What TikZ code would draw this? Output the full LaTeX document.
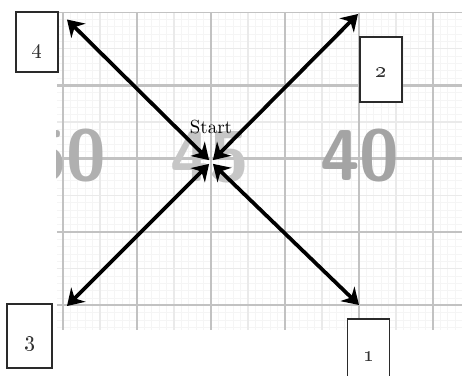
\documentclass[tikz,border=0pt]{standalone}
\usetikzlibrary{arrows.meta,positioning}
\definecolor{gridmajor}{HTML}{C2C2C2}
\definecolor{gridhalf}{HTML}{EAEAEA}
\definecolor{gridfine}{HTML}{F5F5F5}
\definecolor{fadeddark}{HTML}{A4A4A4}
\definecolor{fadedmid}{HTML}{B0B0B0}
\definecolor{fadedlight}{HTML}{C6C6C6}
\definecolor{boxline}{HTML}{2A2A2A}

\begin{document}
\begin{tikzpicture}[x=0.75pt, y=-0.75pt,
    startlabel/.style={font=\normalsize, scale=1.42, inner sep=0.7pt},
    scalenum/.style={font=\sffamily\bfseries\fontsize{54}{54}\selectfont, inner sep=0pt},
    numbox/.style={draw=boxline, line width=0.9pt, fill=white, inner sep=0pt},
    numtext/.style={font=\normalsize, scale=1.6, inner sep=0pt, text=black!80},
    moveline/.style={line width=2.8pt,
        {Stealth[length=12pt,width=15pt]}-{Stealth[length=12pt,width=15pt]}},
]
\clip (0,0) rectangle (462,376);

% Graph paper
\begin{scope}
\clip (57,12) rectangle (462,330);
\foreach \i in {0,...,55} {
    \draw[gridfine, line width=0.5pt] ({55.6+7.4*\i},12) -- ++(0,318);
}
\foreach \j in {0,...,44} {
    \draw[gridfine, line width=0.5pt] (57,{12+7.33*\j}) -- ++(405,0);
}
\foreach \i in {0,...,11} {
    \draw[gridhalf, line width=1pt] ({26+37*\i},12) -- ++(0,318);
}
\foreach \j in {0,...,9} {
    \draw[gridhalf, line width=1pt] (57,{12+36.65*\j}) -- ++(405,0);
}
\foreach \x in {63,137,211,285,359,433} {
    \draw[gridmajor, line width=2.2pt] (\x,12) -- (\x,330);
}
\foreach \y in {12,85.3,158.6,232,305} {
    \draw[gridmajor, line width=2.2pt] (57,\y) -- (462,\y);
}

% Printed scale numbers
\node[scalenum, text=fadedmid] (scale50) at (67,156) {50};
\node[scalenum, text=fadedlight] (scale45) at (210,157) {45};
\node[scalenum, text=fadeddark] (scale40) at (360,156) {40};
\end{scope}

% Start point and the four directions
\coordinate (start) at (211,162);
\coordinate (end1) at (359,305);
\coordinate (end2) at (358,14);
\coordinate (end3) at (67,306);
\coordinate (end4) at (67,19.5);

\node[above=20pt, startlabel] (startlbl) at (start) {Start};

\foreach \k in {1,...,4} {
    \draw[moveline, shorten <=2pt] (start) -- (end\k);
}

% Numbered boxes
\node[numbox, minimum width=31pt, minimum height=67.5pt,
    label={[yshift=5.2pt, numtext]center:\oldstylenums{1}}] (box1) at (368.5,364) {};
\node[numbox, minimum width=31.5pt, minimum height=48.75pt,
    label={[yshift=-2.6pt, numtext]center:\oldstylenums{2}}] (box2) at (381,69.5) {};
\node[numbox, minimum width=33.75pt, minimum height=48pt,
    label={[yshift=-5.6pt, numtext]center:\oldstylenums{3}}] (box3) at (29.5,336) {};
\node[numbox, minimum width=31.5pt, minimum height=45pt,
    label={[yshift=-7.5pt, numtext]center:\oldstylenums{4}}] (box4) at (37,42) {};

\end{tikzpicture}
\end{document}
